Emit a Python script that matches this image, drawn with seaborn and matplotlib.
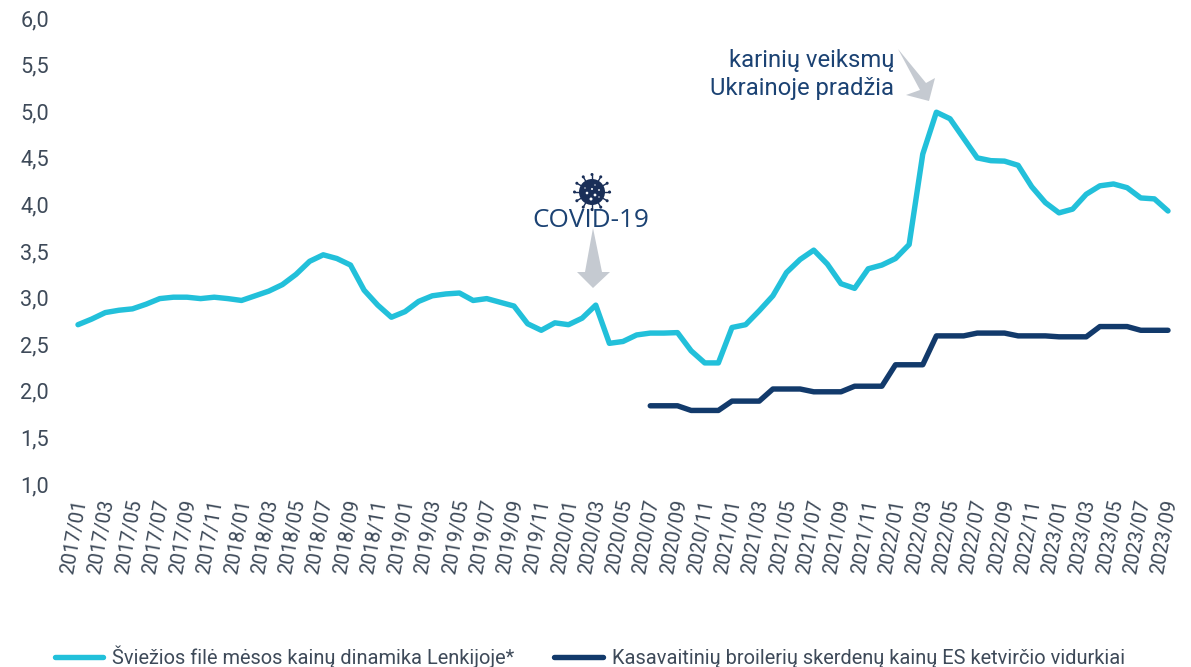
import numpy as np
import pandas as pd
import matplotlib
matplotlib.use("Agg")
import matplotlib.pyplot as plt
from matplotlib.patches import Polygon, Circle
from matplotlib.lines import Line2D
from matplotlib.transforms import Affine2D, ScaledTranslation
import seaborn as sns

W, H = 1191, 667

years_months = [f"{y}/{m:02d}" for y in range(2017, 2024) for m in range(1, 13)][:81]

fresh_fillet = [
    2.72, 2.78, 2.85, 2.875, 2.89, 2.94, 3.00, 3.015, 3.015, 3.00, 3.015, 3.00,
    2.98, 3.03, 3.08, 3.15, 3.26, 3.40, 3.47, 3.43, 3.36, 3.09, 2.93, 2.80,
    2.86, 2.97, 3.03, 3.05, 3.06, 2.98, 3.00, 2.96, 2.92, 2.73, 2.66, 2.74,
    2.72, 2.79, 2.93, 2.52, 2.54, 2.61, 2.63, 2.63, 2.635, 2.44, 2.31, 2.31,
    2.69, 2.72, 2.87, 3.03, 3.28, 3.42, 3.52, 3.37, 3.16, 3.11, 3.32, 3.36,
    3.43, 3.58, 4.55, 5.00, 4.93, 4.72, 4.51, 4.48, 4.475, 4.43, 4.20, 4.03,
    3.92, 3.96, 4.12, 4.21, 4.23, 4.19, 4.08, 4.07, 3.94,
]
broiler_months_start = "2020/07"
broiler_quarterly = [1.85, 1.80, 1.90, 2.03, 2.00, 2.06, 2.29, 2.60, 2.63, 2.60, 2.59, 2.70, 2.66]

name_a = "Šviežios filė mėsos kainų dinamika Lenkijoje*"
name_b = "Kasavaitinių broilerių skerdenų kainų ES ketvirčio vidurkiai"
y_ticks = [1.0, 1.5, 2.0, 2.5, 3.0, 3.5, 4.0, 4.5, 5.0, 5.5, 6.0]

TEAL = "#22C0DA"
NAVY = "#123A6B"
TXT = "#3E4A59"
ANN = "#1B4273"
GREY = "#C5CAD1"

sns.set_theme(style="white")
plt.rcParams["font.family"] = ["Roboto", "DejaVu Sans"]

start = years_months.index(broiler_months_start)
broiler = [np.nan] * start + [v for v in broiler_quarterly for _ in range(3)]
df = pd.DataFrame({
    "i": np.arange(81),
    name_a: fresh_fillet,
    name_b: broiler,
}).melt("i", var_name="series", value_name="value")

fig = plt.figure(figsize=(W / 100, H / 100), dpi=100, facecolor="white")
pxm = (1168 - 78) / 80
left = 78 - pxm * 0.5
right = 1168 + pxm * 0.5
ax = fig.add_axes([left / W, 1 - 485 / H, (right - left) / W, (485 - 19) / H])
sns.lineplot(data=df, x="i", y="value", hue="series", palette=[TEAL, NAVY],
             linewidth=3.9, ax=ax, legend=False, sort=False,
             solid_capstyle="round", solid_joinstyle="round")
ax.set_xlim(-0.5, 80.5)
ax.set_ylim(1, 6)
ax.set_xlabel("")
ax.set_ylabel("")
for s in ax.spines.values():
    s.set_visible(False)
ax.grid(False)
ax.set_yticks(y_ticks)
ax.set_yticklabels([f"{v:.1f}".replace(".", ",") for v in y_ticks],
                   fontsize=15.6, color=TXT)
ax.set_xticks(np.arange(0, 81, 2))
ax.set_xticklabels(years_months[::2], rotation=80, fontsize=14.4, color=TXT,
                   ha="center", va="top", rotation_mode="default")
ax.tick_params(axis="both", length=0)
ax.tick_params(axis="y", pad=16)
ax.tick_params(axis="x", pad=9.5)
shift_x = ScaledTranslation(-3.5 / 100, 0, fig.dpi_scale_trans)
for lab in ax.get_xticklabels():
    lab.set_transform(lab.get_transform() + shift_x)
shift_y = ScaledTranslation(0, 1 / 100, fig.dpi_scale_trans)
for lab in ax.get_yticklabels():
    lab.set_transform(lab.get_transform() + shift_y)

px = Affine2D().scale(1 / W, -1 / H).translate(0, 1) + fig.transFigure

fig.add_artist(Polygon([(593, 228), (602, 272), (610, 272), (593, 288), (577, 272), (585, 272)],
                       closed=True, fc=GREY, ec="none", transform=px))
fig.add_artist(Polygon([(898, 49), (926, 83), (935, 78), (929, 101), (906, 95), (920, 90)],
                       closed=True, fc=GREY, ec="none", transform=px))

fig.text(591 / W, 1 - 221 / H, "COVID-19", fontsize=18.8, color=ANN,
         ha="center", va="center", family=["Open Sans", "DejaVu Sans"])
fig.text(894 / W, 1 - 60 / H, "karinių veiksmų", fontsize=17.2, color=ANN,
         ha="right", va="center")
fig.text(894 / W, 1 - 89 / H, "Ukrainoje pradžia", fontsize=17.2, color=ANN,
         ha="right", va="center")

VIRUS = "#1A2F58"
cx, cy = 592, 192
fig.add_artist(Circle((cx, cy), 13, fc=VIRUS, ec="none", transform=px))
for ang in np.arange(0, 360, 30):
    a = np.deg2rad(ang)
    x0, y0 = cx + 12 * np.cos(a), cy + 12 * np.sin(a)
    x1, y1 = cx + 17.5 * np.cos(a), cy + 17.5 * np.sin(a)
    fig.add_artist(Line2D([x0, x1], [y0, y1], color=VIRUS, lw=1.0, transform=px))
    fig.add_artist(Circle((x1, y1), 1.5, fc=VIRUS, ec="none", transform=px))
for dx, dy, r in [(-5, 1, 1.3), (0, -3, 1.0), (3, 3, 1.4), (-1, 7, 1.5), (7, -2, 0.9), (-7, -4, 0.7), (3, -7, 0.7), (7, 5, 0.7)]:
    fig.add_artist(Circle((cx + dx, cy + dy), r, fc="white", ec="none", transform=px))

handles = [Line2D([], [], color=TEAL, lw=3.9, solid_capstyle="round"),
           Line2D([], [], color=NAVY, lw=3.9, solid_capstyle="round")]
fig.legend(handles, [name_a, name_b], loc="center left",
           bbox_to_anchor=(54.5 / W, 1 - 657 / H), bbox_transform=fig.transFigure,
           ncol=2, frameon=False, fontsize=14.45, labelcolor=TXT,
           handlelength=2.43, handletextpad=0.43, columnspacing=2.0,
           borderpad=0, borderaxespad=0)

fig.savefig("out.png", dpi=100, facecolor="white")
